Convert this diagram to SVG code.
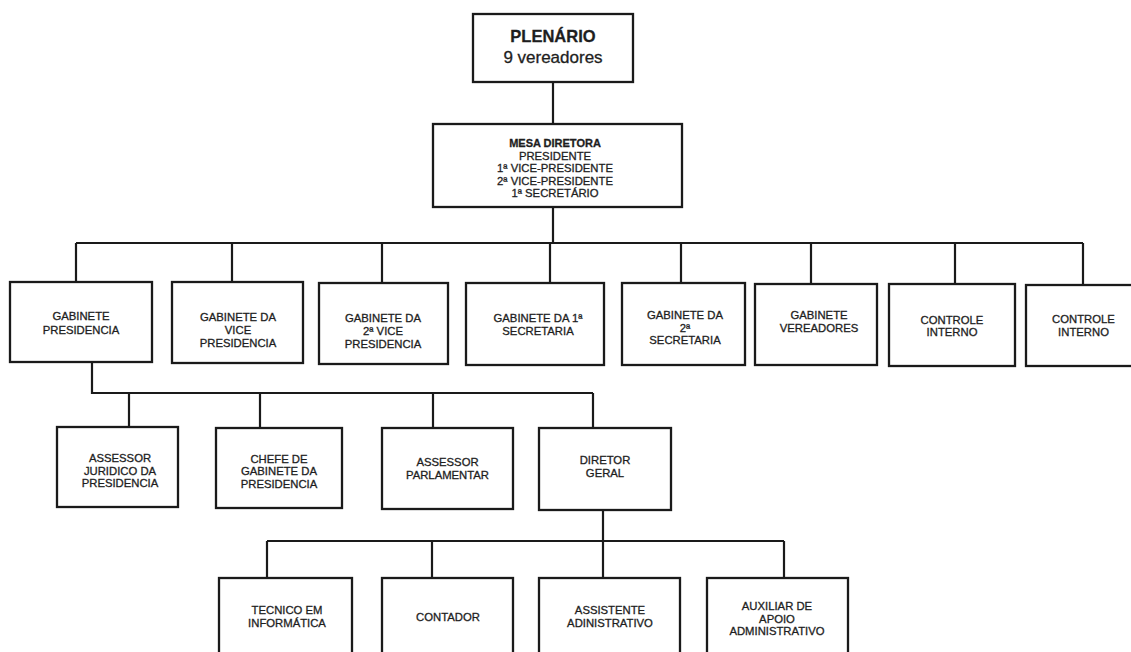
<svg xmlns="http://www.w3.org/2000/svg" width="1131" height="652" viewBox="0 0 1131 652">
<style>
.box{fill:#fff;stroke:#1a1a1a;stroke-width:2.3}
.ln{fill:none;stroke:#1a1a1a;stroke-width:2.2}
text{font-family:"Liberation Sans",Arial,sans-serif;font-size:11.3px;fill:#1e1e1e;stroke:#1e1e1e;stroke-width:0.3;text-anchor:middle}
.b{font-weight:bold}
</style>
<rect width="1131" height="652" fill="#fff"/>
<g id="connectors">
<path class="ln" d="M553 82V124M553 207V243M76 243H1083M76 243V282M232 243V282M382 243V283M550 243V283M681 243V283M811 243V284M955 243V284M1083 243V285"/>
<path class="ln" d="M92 362V393H593M129 393V427M260 393V428M433 393V428M593 393V428"/>
<path class="ln" d="M603 510V541M267 541H784M267 541V578M432 541V578M603 541V578M784 541V578"/>
</g>
<g id="plenario"><rect class="box" x="473" y="14" width="160" height="68"/>
<text x="553" y="42" class="b" style="font-size:16.5px">PLENÁRIO</text>
<text x="553" y="63" style="font-size:17px">9 vereadores</text></g>
<g id="mesa"><rect class="box" x="433" y="124" width="249" height="83"/>
<text x="555" y="147" class="b" style="font-size:11px">MESA DIRETORA</text>
<text x="555" y="159.5">PRESIDENTE</text>
<text x="555" y="172">1ª VICE-PRESIDENTE</text>
<text x="555" y="184.5">2ª VICE-PRESIDENTE</text>
<text x="555" y="197">1ª SECRETÁRIO</text></g>
<g id="gab-presidencia"><rect class="box" x="10" y="282" width="142" height="80"/>
<text x="81" y="320">GABINETE</text><text x="81" y="333.5">PRESIDENCIA</text></g>
<g id="gab-vice"><rect class="box" x="172" y="282" width="131" height="81"/>
<text x="238" y="320.5">GABINETE DA</text><text x="238" y="334">VICE</text><text x="238" y="347">PRESIDENCIA</text></g>
<g id="gab-2vice"><rect class="box" x="319" y="283" width="129" height="81"/>
<text x="383" y="322">GABINETE DA</text><text x="383" y="335">2ª VICE</text><text x="383" y="348">PRESIDENCIA</text></g>
<g id="gab-1sec"><rect class="box" x="466" y="283" width="138" height="82"/>
<text x="538" y="322">GABINETE DA 1ª</text><text x="538" y="335">SECRETARIA</text></g>
<g id="gab-2sec"><rect class="box" x="622" y="283" width="123" height="82"/>
<text x="685" y="319">GABINETE DA</text><text x="685" y="331.5">2ª</text><text x="685" y="344">SECRETARIA</text></g>
<g id="gab-vereadores"><rect class="box" x="755" y="284" width="122" height="81"/>
<text x="819" y="319">GABINETE</text><text x="819" y="332">VEREADORES</text></g>
<g id="controle-1"><rect class="box" x="889" y="284" width="126" height="82"/>
<text x="952" y="323.5">CONTROLE</text><text x="952" y="336">INTERNO</text></g>
<g id="controle-2"><rect class="box" x="1026" y="285" width="110" height="81"/>
<text x="1083.5" y="323">CONTROLE</text><text x="1083.5" y="335.5">INTERNO</text></g>
<g id="assessor-juridico"><rect class="box" x="57" y="427" width="121" height="80"/>
<text x="120" y="462">ASSESSOR</text><text x="120" y="475">JURIDICO DA</text><text x="120" y="487">PRESIDENCIA</text></g>
<g id="chefe-gabinete"><rect class="box" x="216" y="428" width="126" height="80"/>
<text x="279" y="463">CHEFE DE</text><text x="279" y="475">GABINETE DA</text><text x="279" y="487.5">PRESIDENCIA</text></g>
<g id="assessor-parlamentar"><rect class="box" x="382" y="428" width="131" height="81"/>
<text x="447.5" y="466">ASSESSOR</text><text x="447.5" y="479">PARLAMENTAR</text></g>
<g id="diretor-geral"><rect class="box" x="539" y="428" width="132" height="82"/>
<text x="605" y="464">DIRETOR</text><text x="605" y="477">GERAL</text></g>
<g id="tecnico"><rect class="box" x="219" y="578" width="133" height="90"/>
<text x="287" y="614">TECNICO EM</text><text x="287" y="627">INFORMÁTICA</text></g>
<g id="contador"><rect class="box" x="382" y="578" width="131" height="90"/>
<text x="448" y="621">CONTADOR</text></g>
<g id="assistente"><rect class="box" x="539" y="578" width="141" height="90"/>
<text x="610" y="614">ASSISTENTE</text><text x="610" y="627">ADINISTRATIVO</text></g>
<g id="auxiliar"><rect class="box" x="707" y="578" width="141" height="90"/>
<text x="777" y="610">AUXILIAR DE</text><text x="777" y="622.5">APOIO</text><text x="777" y="635">ADMINISTRATIVO</text></g>
</svg>
